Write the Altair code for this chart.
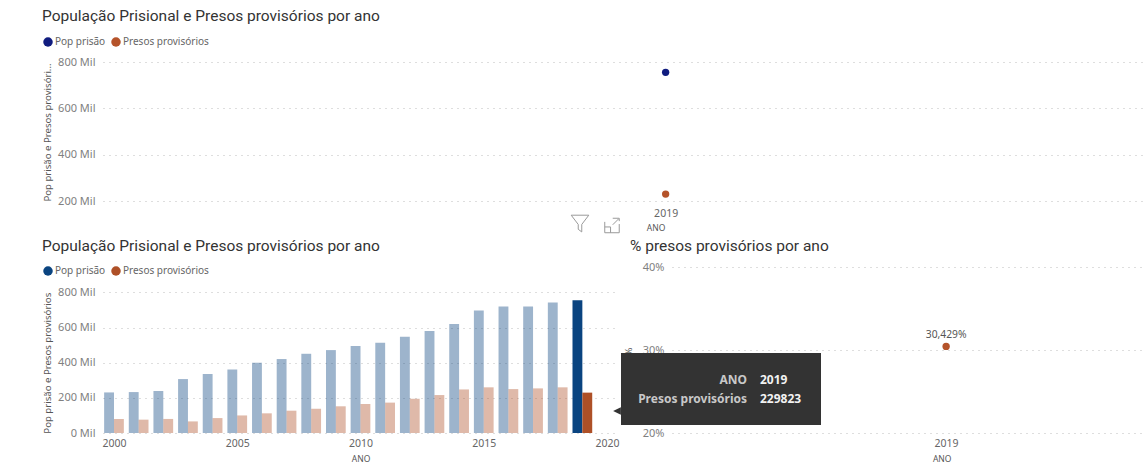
import altair as alt
import pandas as pd

YEARS = list(range(2000, 2020))
POP_PRISAO = [231000, 233000, 239000, 307000, 336000, 361000, 400000, 421000, 451000, 472000,
              495000, 514000, 548000, 581000, 620000, 698000, 720000, 720000, 743000, 755274]
PRESOS = [80000, 76000, 80000, 66000, 85000, 100000, 112000, 127000, 138000, 152000,
          165000, 173000, 195000, 216000, 248000, 260000, 250000, 254000, 260000, 229823]
SERIES = ["Pop prisão", "Presos provisórios"]
LATEST_YEAR = 2019
LATEST_POP = 755274
LATEST_PRESOS = 229823
LATEST_SHARE = 0.30429
TOOLTIP_KEYS = ["ANO", "Presos provisórios"]
TOOLTIP_VALUES = ["2019", "229823"]
TITLE_POP = "População Prisional e Presos provisórios por ano"
TITLE_SHARE = "% presos provisórios por ano"

TITLE_FONT = "Roboto"
FONT = "Noto Sans"
GRID = dict(grid=True, gridDash=[1, 5], gridColor="#bdbdbd", gridWidth=1, domain=False, ticks=False,
            labelColor="#808080", labelFont=FONT, labelFontSize=11, labelPadding=8, titleColor="#555555",
            titleFont=FONT, titleFontWeight="normal", titleFontSize=9.6)
XAXIS = dict(grid=False, domain=False, ticks=False, labelColor="#666666", labelFont=FONT, labelFontSize=10.5,
             titleColor="#555555", titleFont=FONT, titleFontWeight="normal", titleFontSize=8.5,
             titleBaseline="middle", format="d")
MIL = "datum.value / 1000 + ' Mil'"
one_row = pd.DataFrame({"linha": [0]})


def heading(text, x, y):
    return alt.Chart(one_row).mark_text(
        text=text, align="left", baseline="middle", font=TITLE_FONT, fontSize=15.5, color="#333333"
    ).encode(x=alt.value(x), y=alt.value(y))


def legend(y):
    return alt.Legend(orient="none", legendX=-60, legendY=y, direction="horizontal", title=None,
                      symbolType="circle", symbolSize=90, labelFont=FONT, labelFontSize=10,
                      labelColor="#666666", columnPadding=5, labelOffset=2, symbolStrokeWidth=0)


latest = pd.DataFrame({"ano": [LATEST_YEAR, LATEST_YEAR], "serie": SERIES, "valor": [LATEST_POP, LATEST_PRESOS]})
top_points = alt.Chart(latest).mark_circle(size=54, opacity=1).encode(
    x=alt.X("ano:Q", scale=alt.Scale(domain=[2018.459, 2019.459], nice=False),
            axis=alt.Axis(values=[2019], labelPadding=3, title="ANO", titleX=552.6, titleY=22, **XAXIS)),
    y=alt.Y("valor:Q", scale=alt.Scale(domain=[182800, 800000], nice=False),
            axis=alt.Axis(values=[200000, 400000, 600000, 800000], labelExpr=MIL,
                          title="Pop prisão e Presos provisóri...", titleX=-51, titleY=70, **GRID)),
    color=alt.Color("serie:N", scale=alt.Scale(domain=SERIES, range=["#101C7F", "#B5532A"]), legend=legend(-25)),
)
top = alt.layer(top_points, heading(TITLE_POP, -61, -46)).properties(width=1040, height=143)

bars_df = pd.concat([
    pd.DataFrame({"ano": YEARS, "serie": SERIES[0], "valor": POP_PRISAO}),
    pd.DataFrame({"ano": YEARS, "serie": SERIES[1], "valor": PRESOS}),
])
bars = alt.Chart(bars_df).transform_calculate(
    inicio=f"datum.serie == '{SERIES[0]}' ? datum.ano - 0.4 : datum.ano",
    fim=f"datum.serie == '{SERIES[0]}' ? datum.ano : datum.ano + 0.4",
    base="0",
).mark_rect().encode(
    x=alt.X("inicio:Q", scale=alt.Scale(domain=[1999.554, 2020.446], nice=False),
            axis=alt.Axis(values=[2000, 2005, 2010, 2015, 2020], labelPadding=5, title="ANO", titleY=25, **XAXIS)),
    x2="fim:Q",
    y=alt.Y("valor:Q", scale=alt.Scale(domain=[0, 945000], nice=False),
            axis=alt.Axis(values=[0, 200000, 400000, 600000, 800000], labelExpr=MIL,
                          title="Pop prisão e Presos provisórios", titleX=-51, titleY=95.7, **GRID)),
    y2="base:Q",
    color=alt.Color("serie:N", scale=alt.Scale(domain=SERIES, range=["#0A4480", "#AE5027"]), legend=legend(-1)),
    opacity=alt.condition(f"datum.ano == {LATEST_YEAR}", alt.value(1), alt.value(0.4)),
)

# Visual-header icons floating above the lower-left chart.
FILTER_ICON = "M-1,-1 L1,-1 L0.2,0.05 L0.2,0.9 L-0.2,0.6 L-0.2,0.05 Z"
FOCUS_ICON = "M-1,-0.5 L-1,1 L1,1 L1,-0.2 M-1,0.2 L-0.2,0.2 L-0.2,1 M0.1,-1 L1,-1 L1,-0.6 M0.9,-0.9 L0.1,-0.1"
icon_marks = [
    alt.Chart(one_row).mark_point(shape=path, size=size, stroke="#9a9a9a", strokeWidth=1, filled=False, opacity=1)
    .encode(x=alt.value(x), y=alt.value(y))
    for path, x, y, size in [(FILTER_ICON, 477, -43, 310), (FOCUS_ICON, 509, -41.5, 210)]
]
left = alt.layer(bars, *icon_marks, heading(TITLE_POP, -61, -21)).properties(width=515, height=166)

share = pd.DataFrame({"ano": [LATEST_YEAR], "pct": [LATEST_SHARE]})
share_x = alt.X("ano:Q", scale=alt.Scale(domain=[2018.418, 2019.418], nice=False),
                axis=alt.Axis(values=[2019], labelPadding=5, title="ANO", titleX=269.7, titleY=25, **XAXIS))
share_y = alt.Y("pct:Q", scale=alt.Scale(domain=[0.2, 0.4], nice=False),
                axis=alt.Axis(values=[0.2, 0.3, 0.4], format=".0%", title="%", titleX=-39, titleY=84, **GRID))
point = alt.Chart(share).mark_circle(size=54, opacity=1, color="#B5532A").encode(x=share_x, y=share_y)
label = alt.Chart(share).transform_calculate(
    rotulo="replace(format(datum.pct, '.3%'), '.', ',')"
).mark_text(dy=-11.4, font=FONT, fontSize=10.3, color="#555555").encode(x=share_x, y=share_y, text="rotulo:N")

# Hover card for the highlighted 2019 bar.
card = alt.Chart(one_row).mark_rect(color="#333333").encode(
    x=alt.value(-51), x2=alt.value(149), y=alt.value(86), y2=alt.value(158)
)
pointer = alt.Chart(one_row).mark_point(
    shape="M1,-1 L-1,0 L1,1 Z", size=60, filled=True, color="#333333", opacity=1
).encode(x=alt.value(-55), y=alt.value(144))
card_text = []
for row_y, key, val in zip([113, 132], TOOLTIP_KEYS, TOOLTIP_VALUES):
    card_text.append(alt.Chart(one_row).mark_text(
        align="right", text=key, font=FONT, fontSize=12, fontWeight="bold", color="#c8c8c8"
    ).encode(x=alt.value(75), y=alt.value(row_y)))
    card_text.append(alt.Chart(one_row).mark_text(
        align="left", text=val, font=FONT, fontSize=12, fontWeight="bold", color="#f2f2f2"
    ).encode(x=alt.value(88), y=alt.value(row_y)))
right = alt.layer(point, label, heading(TITLE_SHARE, -42, -21), card, pointer, *card_text).properties(
    width=471, height=166
)

bottom = alt.hconcat(left, right, spacing=54, bounds="flush").resolve_scale(color="independent")
chart = (
    alt.vconcat(top, bottom, spacing=62, bounds="flush")
    .resolve_scale(color="independent")
    .properties(padding=dict(left=41, top=9, right=0, bottom=10), background="white")
    .configure_view(stroke=None)
)

chart.save("out.html", embed_options={"renderer": "svg", "actions": False})
